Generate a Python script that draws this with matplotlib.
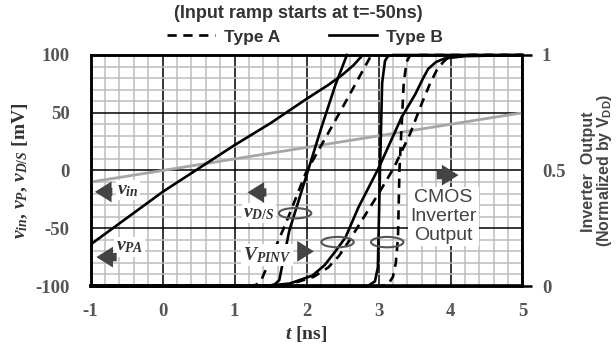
import matplotlib
matplotlib.use("Agg")
import matplotlib.pyplot as plt
from matplotlib.lines import Line2D
from matplotlib.patches import Ellipse
import numpy as np

plt.rcParams['mathtext.fontset'] = 'custom'
plt.rcParams['mathtext.it'] = 'Liberation Serif:italic:bold'
plt.rcParams['mathtext.rm'] = 'Liberation Serif:bold'
plt.rcParams['mathtext.sf'] = 'Liberation Sans:bold'

# ---- data ----
# left axis (mV)
t_vin = [-1, 5]
v_in = [-10, 50]

t_pa = [-1, 0, 1, 1.5, 2, 2.3, 2.5, 2.65, 2.78]
v_pa = [-64, -18.5, 22, 41, 62, 74, 83, 91, 100]

t_ds_b = [-1, 1.45, 1.55, 1.62, 1.76, 2.03, 2.2, 2.4, 2.56]
v_ds_b = [-100, -100, -99, -95, -52, 2, 36, 74, 100]

t_ds_a = [-1, 1.2, 1.3, 1.37, 1.71, 1.99, 2.26, 2.45, 2.68, 2.9]
v_ds_a = [-100, -100, -99, -95, -46, -2, 28, 49, 75, 100]

# right axis (normalized inverter output)
t_out_b_fast = [-1, 2.85, 2.95, 2.99, 3.02, 3.05, 3.09, 3.13, 3.2, 5]
n_out_b_fast = [0, 0, 0.02, 0.08, 0.5, 0.88, 0.975, 0.995, 1, 1]

t_out_a_fast = [-1, 3.05, 3.14, 3.2, 3.24, 3.27, 3.29, 3.35, 3.39, 3.43, 3.5, 5]
n_out_a_fast = [0, 0, 0.01, 0.04, 0.1, 0.21, 0.5, 0.88, 0.97, 0.995, 1, 1]

t_out_b_slow = [-1, 1.2, 1.5, 1.76, 2.08, 2.25, 2.4, 2.54, 2.72, 3.0, 3.32, 3.51,
                3.62, 3.69, 3.8, 3.92, 4.2, 5]
n_out_b_slow = [0, 0, 0.003, 0.01, 0.045, 0.09, 0.15, 0.21, 0.34, 0.51, 0.73, 0.83,
                0.9, 0.94, 0.97, 0.985, 0.995, 1]

t_out_a_slow = [-1, 1.2, 1.5, 1.8, 2.1, 2.3, 2.45, 2.6, 2.8, 3.0, 3.21, 3.44, 3.6,
                3.72, 3.81, 3.9, 3.97, 4.3, 5]
n_out_a_slow = [0, 0, 0.003, 0.01, 0.04, 0.08, 0.13, 0.2, 0.3, 0.4, 0.51, 0.66, 0.79,
                0.88, 0.935, 0.97, 0.99, 1, 1]

x_ticks = [-1, 0, 1, 2, 3, 4, 5]
y_ticks = [-100, -50, 0, 50, 100]
y2_ticks = [0, 0.5, 1]
y2_labels = ['0', '0.5', '1']

tick_col = '#555555'
dk = '#444444'
LW = 1.9
DASH = (3.5, 2.5)

fig = plt.figure(figsize=(6.16, 3.53), dpi=100)
ax = fig.add_axes([0.1472, 0.1898, 0.701, 0.6544])
ax2 = ax.twinx()

ax.set_xlim(-1, 5)
ax.set_ylim(-100, 100)
ax2.set_ylim(0, 1)

# grid
ax.set_xticks(np.arange(-1, 5.01, 0.2), minor=True)
ax.set_yticks(np.arange(-100, 101, 10), minor=True)
ax.set_xticks(x_ticks)
ax.set_yticks(y_ticks)
ax.grid(which='minor', color='#bdbdbd', lw=1.1)
ax.grid(which='major', color='black', lw=1.1)
ax.set_axisbelow(True)

# curves on left axis
ax.plot(t_vin, v_in, color='#a6a6a6', lw=2.0, zorder=3)
ax.plot(t_pa, v_pa, color='black', lw=LW, zorder=4)
ax.plot(t_ds_b, v_ds_b, color='black', lw=LW, zorder=4, clip_on=False)
ax.plot(t_ds_a, v_ds_a, color='black', lw=LW, ls='--', dashes=DASH, zorder=4, clip_on=False)

# curves on right axis
ax2.plot(t_out_b_fast, n_out_b_fast, color='black', lw=LW, clip_on=False)
ax2.plot(t_out_a_fast, n_out_a_fast, color='black', lw=LW, ls='--', dashes=DASH, clip_on=False)
ax2.plot(t_out_b_slow, n_out_b_slow, color='black', lw=LW, clip_on=False)
ax2.plot(t_out_a_slow, n_out_a_slow, color='black', lw=LW, ls='--', dashes=DASH, clip_on=False)

# spines / ticks
for a in (ax, ax2):
    for s in a.spines.values():
        s.set_linewidth(1.8)
ax.spines['bottom'].set_linewidth(2.6)
ax.tick_params(which='both', length=0)
ax.tick_params(axis='y', pad=15)
ax.tick_params(axis='x', pad=12)
serif_tick = dict(family='Liberation Serif', weight='bold', size=13.5, color=tick_col)
ax.set_xticklabels([str(v) for v in x_ticks], **serif_tick)
ax.set_yticklabels([str(v) for v in y_ticks], **serif_tick)
ax2.set_yticks(y2_ticks)
ax2.set_yticklabels(y2_labels, **serif_tick)
ax2.tick_params(axis='y', length=7, width=1.8, pad=7)
ax2.yaxis.get_major_ticks()[1].tick2line.set_visible(False)

ax.set_xlabel('$t$ [ns]', family='Liberation Serif', weight='bold', size=14,
              color='#333333', labelpad=3)
ax.set_ylabel('$v_{in}$, $v_{P}$, $v_{D/S}$ [mV]', family='Liberation Serif',
              weight='bold', size=14, color='#333333', labelpad=4)

# right axis label, two rotated lines
W, H = 616, 353
rlab = dict(family='Liberation Sans', weight='bold', size=11.5, color='#444444',
            rotation=90, ha='center', va='center')
fig.text(588 / W, 1 - 172 / H, 'Inverter  Output', **rlab)
fig.text(605 / W, 1 - 170 / H, '(Normalized by $\\mathsf{V}_{\\mathsf{DD}}$)', **rlab)

# title and legend
fig.text(0.484, 1 - 13 / H, '(Input ramp starts at t=-50ns)', ha='center', va='center',
         family='Liberation Sans', weight='bold', size=13, color='#333333')
handles = [Line2D([], [], color='black', lw=LW, ls='--', dashes=DASH),
           Line2D([], [], color='black', lw=LW)]
leg = ax.legend(handles, ['Type A', 'Type B'], loc='center', bbox_to_anchor=(0.496, 1.078),
                ncol=2, frameon=False, handlelength=2.8, handletextpad=0.5,
                columnspacing=2.8, borderaxespad=0,
                prop=dict(family='Liberation Sans', weight='bold', size=12.5))
for txt in leg.get_texts():
    txt.set_color('#333333')

# annotations (in left-axis data coords, drawn above everything)
tr = ax.transData
box = dict(fc='white', ec='none', pad=1.0)
lab = dict(family='Liberation Serif', weight='bold', size=14, color='#333333')
arrow_kw = dict(arrowstyle='simple,head_width=1.0,head_length=0.8,tail_width=0.4',
                color=dk, lw=0, mutation_scale=15)

def arrow(x0, x1, y):
    ax2.annotate('', xy=(x1, y), xytext=(x0, y), xycoords=tr, textcoords=tr,
                 arrowprops=arrow_kw, zorder=10)

ax2.text(-0.48, -17, '$v_{in}$', transform=tr, ha='center', va='center', bbox=box, zorder=9, **lab)
arrow(-0.66, -0.98, -18.5)
ax2.text(-0.46, -66, '$v_{PA}$', transform=tr, ha='center', va='center', bbox=box, zorder=9, **lab)
arrow(-0.6, -0.96, -75)
ax2.text(1.34, -37, '$v_{D/S}$', transform=tr, ha='center', va='center', bbox=box, zorder=9, **lab)
arrow(1.48, 1.14, -19)
ax2.text(1.45, -73, '$V_{PINV}$', transform=tr, ha='center', va='center', bbox=box, zorder=9, **lab)
arrow(1.88, 2.14, -70)
ax2.text(3.9, -40, 'CMOS\nInverter\nOutput', transform=tr, ha='center', va='center',
         family='Liberation Sans', size=14, color='#444444', linespacing=1.15,
         bbox=dict(fc='white', ec='none', pad=1.5), zorder=9)
arrow(3.77, 4.15, -4)

for cx, cy in [(1.84, -37), (2.43, -62), (3.12, -62)]:
    ax2.add_patch(Ellipse((cx, cy), 0.45, 9, transform=tr, fill=False,
                          ec='#555555', lw=1.5, zorder=11))

fig.savefig('out.png', dpi=100)
